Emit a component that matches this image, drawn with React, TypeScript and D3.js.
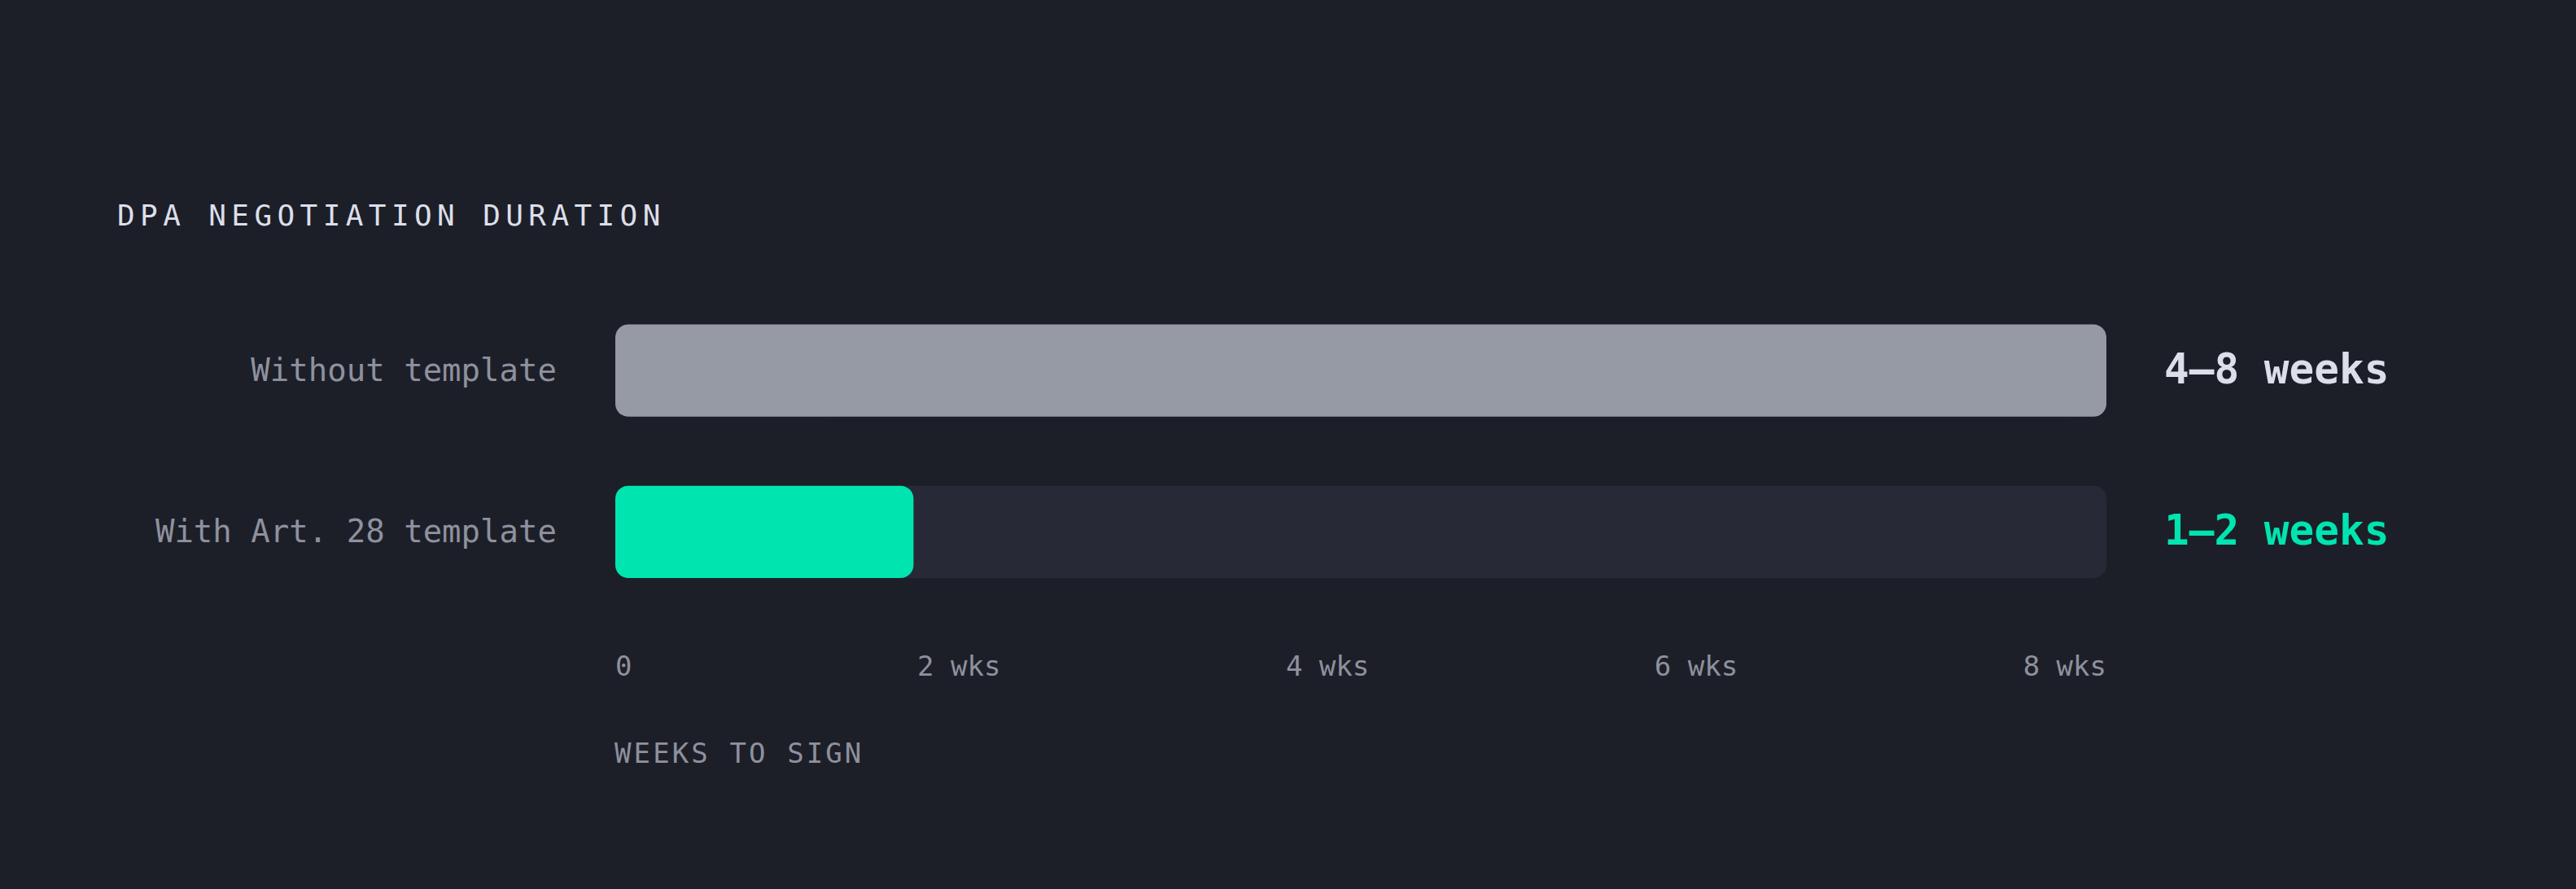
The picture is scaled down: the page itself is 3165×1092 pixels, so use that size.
import * as d3 from 'd3';

const categories = ["Without template", "With Art. 28 template"];
const weeksToSign = [8, 1.6];
const valueLabels = ["4–8 weeks", "1–2 weeks"];
const tickValues = [0, 2, 4, 6, 8];
const tickLabels = ["0", "2 wks", "4 wks", "6 wks", "8 wks"];
const chartTitle = "DPA NEGOTIATION DURATION";
const axisTitle = "WEEKS TO SIGN";

const WIDTH = 3165;
const HEIGHT = 1092;
const FONT = "'DejaVu Sans Mono', 'Liberation Mono', monospace";

const barColors = ["#969aa5", "#00e5b0"];
const valueColors = ["#dcdfea", "#00e5b0"];

export default function App() {
  const x = d3.scaleLinear().domain([0, d3.max(tickValues) ?? 8]).range([756, 2588]);
  const y = d3.scaleBand<string>().domain(categories).range([398.5, 710]).paddingInner(0.428).paddingOuter(0);
  const bw = y.bandwidth();

  // tick labels are spread like flex space-between across the track
  const tickFs = 34;
  const charW = tickFs * 0.602;
  const widths = tickLabels.map(t => t.length * charW);
  const [x0, x1] = x.range();
  const gap = (x1 - x0 - d3.sum(widths)) / (tickLabels.length - 1);
  let cursor = x0;
  const tickPos = widths.map(w => {
    const p = cursor;
    cursor += w + gap;
    return p;
  });

  return (
    <div style={{ position: 'fixed', inset: 0, background: '#1d1f28' }}>
      <svg width={WIDTH} height={HEIGHT} style={{ display: 'block', fontFamily: FONT }}>
        <rect width={WIDTH} height={HEIGHT} fill="#1d1f28" />

        <text x={144} y={277} fontSize={36} letterSpacing={6.4} fill="#dcdfea">
          {chartTitle}
        </text>

        {categories.map((c, i) => {
          const top = y(c) ?? 0;
          const cy = top + bw / 2;
          return (
            <g key={c}>
              <text x={684} y={cy + 13} fontSize={39} textAnchor="end" fill="#8e919e">
                {c}
              </text>
              <rect x={x(0)} y={top} width={x(x.domain()[1]) - x(0)} height={bw} rx={16} fill="#272a36" />
              <rect x={x(0)} y={top} width={x(weeksToSign[i]) - x(0)} height={bw} rx={16} fill={barColors[i]} />
              <text x={2659} y={cy + 15.5} fontSize={51} fontWeight={700} fill={valueColors[i]}>
                {valueLabels[i]}
              </text>
            </g>
          );
        })}

        {tickValues.map((v, i) => (
          <text key={v} x={tickPos[i]} y={830} fontSize={tickFs} fill="#8e919e">
            {tickLabels[i]}
          </text>
        ))}

        <text x={755} y={937} fontSize={34} letterSpacing={3.1} fill="#8e919e">
          {axisTitle}
        </text>
      </svg>
    </div>
  );
}
